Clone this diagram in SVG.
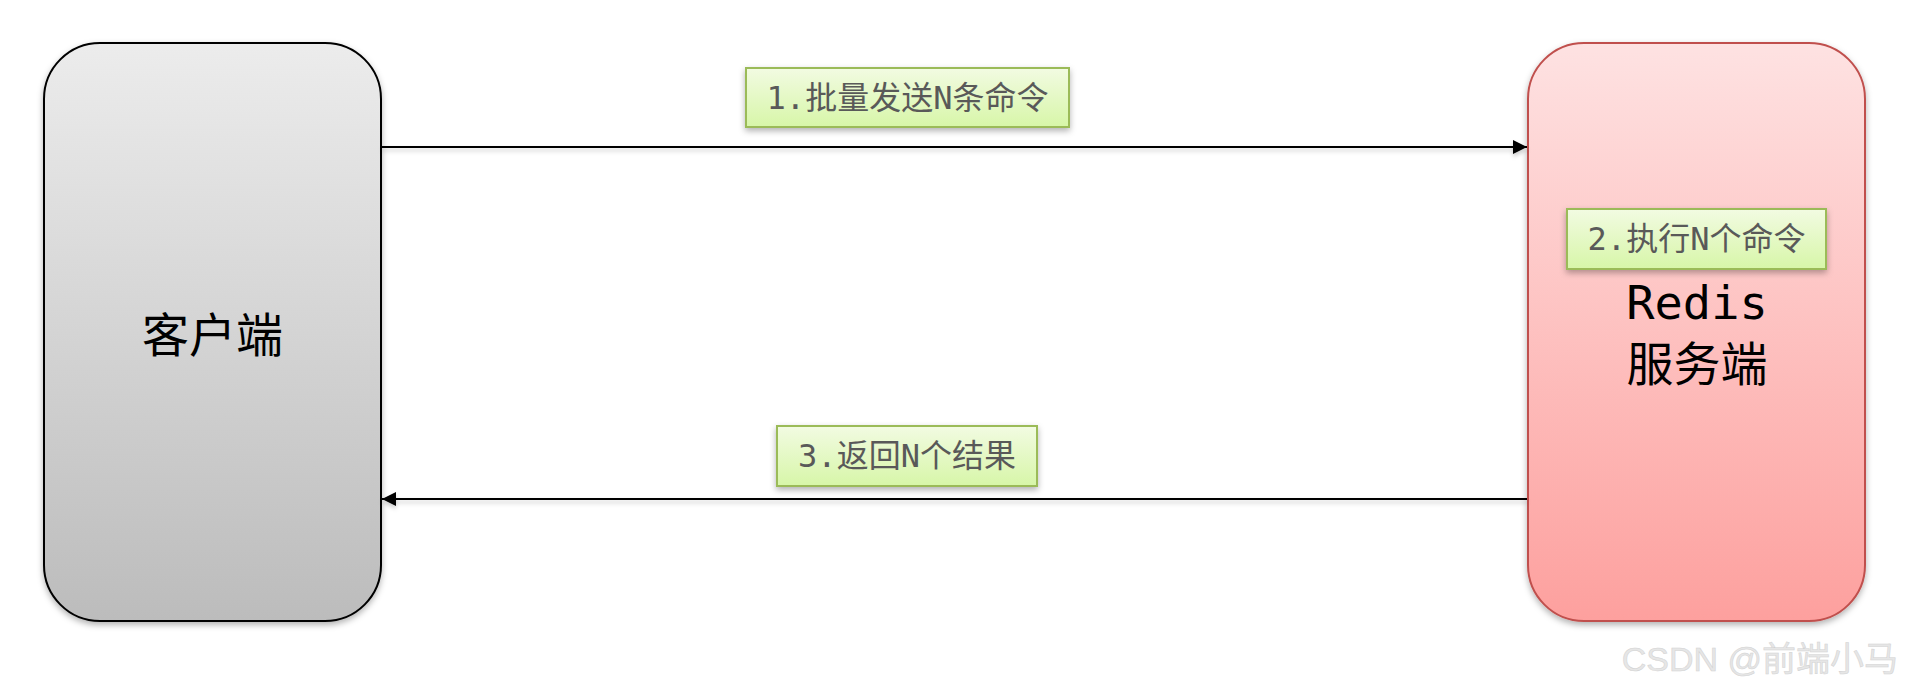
<svg xmlns="http://www.w3.org/2000/svg" width="1905" height="691" viewBox="0 0 1905 691">
<style>
.lbl{fill:url(#gLbl);stroke:#9bbb59;stroke-width:2;filter:url(#sh)}
.lt{font-family:"DejaVu Sans Mono","Noto Sans CJK SC",monospace;font-size:32px;fill:#595959;text-anchor:middle}
.big{font-family:"DejaVu Sans Mono","Noto Sans CJK SC",sans-serif;font-size:47px;fill:#000;text-anchor:middle}
.conn{stroke:#000;stroke-width:2;fill:none}
</style>
<defs>
<linearGradient id="gGray" x1="0" y1="0" x2="0" y2="1"><stop offset="0" stop-color="#ececec"/><stop offset="1" stop-color="#bcbcbc"/></linearGradient>
<linearGradient id="gRed" x1="0" y1="0" x2="0" y2="1"><stop offset="0" stop-color="#fee2e2"/><stop offset="1" stop-color="#fda09e"/></linearGradient>
<linearGradient id="gLbl" x1="0" y1="0" x2="0" y2="1"><stop offset="0" stop-color="#f2fbe2"/><stop offset="1" stop-color="#d7f6a8"/></linearGradient>
<filter id="sh" x="-10%" y="-10%" width="120%" height="130%"><feDropShadow dx="0" dy="3" stdDeviation="3" flood-color="#000" flood-opacity="0.3"/></filter>
<filter id="lsh" filterUnits="userSpaceOnUse" x="0" y="0" width="1905" height="691"><feDropShadow dx="0" dy="3" stdDeviation="2" flood-color="#000" flood-opacity="0.2"/></filter>
<marker id="ah2" viewBox="0 0 10 10" refX="10" refY="5" markerWidth="16" markerHeight="14" orient="auto" markerUnits="userSpaceOnUse"><path d="M0,0 L10,5 L0,10 z" fill="#000"/></marker>
</defs>
<g id="client">
<rect x="44" y="43" width="337" height="578" rx="56" ry="56" fill="url(#gGray)" stroke="#000" stroke-width="2" filter="url(#sh)"/>
<text class="big" x="212.5" y="352">客户端</text>
</g>
<g id="redis">
<rect x="1528" y="43" width="337" height="578" rx="56" ry="56" fill="url(#gRed)" stroke="#c0504d" stroke-width="2" filter="url(#sh)"/>
<text class="big" x="1697" y="319" font-size="44">Redis</text>
<text class="big" x="1697" y="381">服务端</text>
</g>
<g id="connectors" filter="url(#lsh)">
<line class="conn" x1="382" y1="147" x2="1527" y2="147" marker-end="url(#ah2)"/>
<line class="conn" x1="1527" y1="499" x2="382" y2="499" marker-end="url(#ah2)"/>
</g>
<g id="label1">
<rect class="lbl" x="746" y="68" width="323" height="59"/>
<text class="lt" x="907.5" y="109">1.批量发送N条命令</text>
</g>
<g id="label2">
<rect class="lbl" x="1567" y="209" width="259" height="60"/>
<text class="lt" x="1696.5" y="250">2.执行N个命令</text>
</g>
<g id="label3">
<rect class="lbl" x="777" y="426" width="260" height="60"/>
<text class="lt" x="907" y="467">3.返回N个结果</text>
</g>
<text x="1898" y="671" text-anchor="end" font-family="Liberation Sans,'Noto Sans CJK SC',sans-serif" font-size="34" fill="#e6e6e6" stroke="#d2d2d2" stroke-width="0.5">CSDN @前端小马</text>
</svg>
